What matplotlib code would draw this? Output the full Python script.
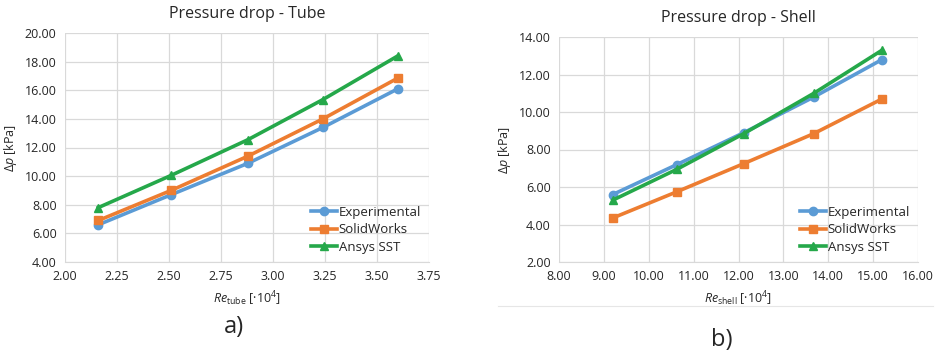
import matplotlib
matplotlib.use('Agg')
import matplotlib.pyplot as plt

plt.rcParams['font.family'] = ['Open Sans', 'DejaVu Sans']
plt.rcParams['mathtext.fontset'] = 'custom'
plt.rcParams['mathtext.rm'] = 'Open Sans'
plt.rcParams['mathtext.it'] = 'Open Sans:italic'

# tube side
re_tube = [2.16, 2.51, 2.88, 3.24, 3.60]
tube_exp = [6.60, 8.70, 10.90, 13.40, 16.10]
tube_sw = [6.90, 9.00, 11.40, 14.00, 16.85]
tube_sst = [7.80, 10.05, 12.55, 15.35, 18.40]

# shell side
re_shell = [9.20, 10.63, 12.12, 13.68, 15.20]
shell_exp = [5.60, 7.20, 8.90, 10.80, 12.80]
shell_sw = [4.35, 5.75, 7.25, 8.85, 10.70]
shell_sst = [5.30, 6.95, 8.85, 11.00, 13.30]

names = ['Experimental', 'SolidWorks', 'Ansys SST']
colors = ['#5B9BD5', '#ED7D31', '#25A84A']
markers = ['o', 's', '^']

fig = plt.figure(figsize=(9.42, 3.56), dpi=100)
ax1 = fig.add_axes([65/942, 1-262/356, 364/942, 229/356])
ax2 = fig.add_axes([559/942, 1-262/356, 359/942, 225/356])


def draw(ax, x, series, xlim, xticks, ylim, yticks, title, sub):
    for y, n, c, m in zip(series, names, colors, markers):
        ax.plot(x, y, color=c, marker=m, markersize=6, linewidth=2.6, label=n)
    ax.set_xlim(xlim)
    ax.set_ylim(ylim)
    ax.set_xticks(xticks)
    ax.set_yticks(yticks)
    ax.set_xticklabels(['%.2f' % t for t in xticks])
    ax.set_yticklabels(['%.2f' % t for t in yticks])
    ax.grid(True, color='#D9D9D9', linewidth=0.9)
    ax.set_axisbelow(True)
    for s in ax.spines.values():
        s.set_visible(False)
    ax.spines['bottom'].set_visible(True)
    ax.spines['bottom'].set_color('#D9D9D9')
    ax.tick_params(length=0, labelsize=9, colors='#262626', pad=6)
    ax.set_title(title, fontsize=11.5, color='#262626', pad=11)
    ax.set_ylabel(r'$\mathit{\Delta p}$ [kPa]', fontsize=9, color='#262626', labelpad=4)
    ax.set_xlabel(r'$\mathit{Re}_{\mathrm{' + sub + r'}}$ [·10$^{4}$]', fontsize=9,
                  color='#262626', labelpad=4)
    ax.legend(loc='lower right', frameon=False, fontsize=9.5, handlelength=2.0,
              handletextpad=0.1, labelspacing=0.35, borderaxespad=0.2,
              labelcolor='#262626')


draw(ax1, re_tube, [tube_exp, tube_sw, tube_sst], (2.0, 3.75),
     [2.0, 2.25, 2.5, 2.75, 3.0, 3.25, 3.5, 3.75], (4, 20),
     [4, 6, 8, 10, 12, 14, 16, 18, 20], 'Pressure drop - Tube', 'tube')
draw(ax2, re_shell, [shell_exp, shell_sw, shell_sst], (8, 16),
     [8, 9, 10, 11, 12, 13, 14, 15, 16], (2, 14),
     [2, 4, 6, 8, 10, 12, 14], 'Pressure drop - Shell', 'shell')

fig.text(234/942, 1-327/356, 'a)', fontsize=17, ha='center', va='center', color='#262626')
fig.text(722/942, 1-340/356, 'b)', fontsize=17, ha='center', va='center', color='#262626')
fig.add_artist(plt.Line2D([498/942, 933/942], [1-306/356, 1-306/356],
                          color='#E6E6E6', linewidth=0.8))

fig.savefig('out.png', dpi=100)
